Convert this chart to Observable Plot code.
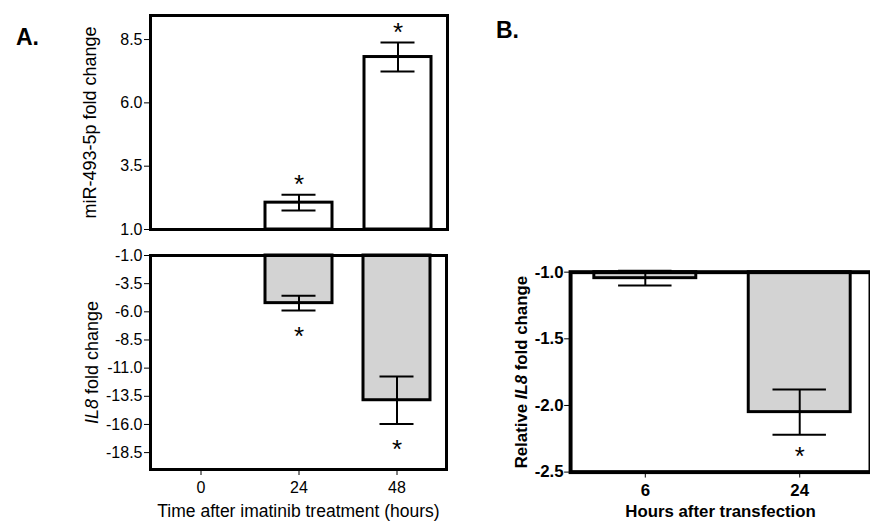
<!DOCTYPE html>
<html>
<head>
<meta charset="utf-8">
<script src="https://cdn.jsdelivr.net/npm/d3@7"></script>
<script src="https://cdn.jsdelivr.net/npm/@observablehq/plot@0.6"></script>
<style>
  html, body { margin: 0; padding: 0; background: white; overflow: hidden; }
  #root { position: relative; width: 870px; height: 522px; overflow: hidden; background: white; font-family: "Liberation Sans", Arial, sans-serif; }
  #root > .panel { position: absolute; }
  .letter { position: absolute; font-weight: bold; font-size: 23px; line-height: 23px; }
</style>
</head>
<body>
<div id="root">
  <div class="letter" style="left:16px; top:26px;">A.</div>
  <div class="letter" style="left:496px; top:19px;">B.</div>
</div>
<script>
// ---- Panel A: time after imatinib treatment (hours)
const hoursA = ["0", "24", "48"];
const mirMean = [1.0, 2.06, 7.81];
const mirErr = [0, 0.31, 0.57];
const mirSig = [false, true, true];
const il8Mean = [-1.0, -5.23, -13.85];
const il8Err = [0, 0.66, 2.1];
const il8Sig = [false, true, true];
const yTicksMir = [1.0, 3.5, 6.0, 8.5];
const yTicksIl8 = [-1.0, -3.5, -6.0, -8.5, -11.0, -13.5, -16.0, -18.5];

// ---- Panel B: hours after transfection
const hoursB = ["6", "24"];
const relMean = [-1.045, -2.05];
const relErr = [0.055, 0.17];
const relSig = [false, true];
const yTicksRel = [-1.0, -1.5, -2.0, -2.5];

const mirData = hoursA.map((h, i) => ({h, mean: mirMean[i], err: mirErr[i], sig: mirSig[i]}));
const il8Data = hoursA.map((h, i) => ({h, mean: il8Mean[i], err: il8Err[i], sig: il8Sig[i]}));
const relData = hoursB.map((h, i) => ({h, mean: relMean[i], err: relErr[i], sig: relSig[i]}));

const fmt = d => d.toFixed(1);
const hi = d => d.mean + d.err;
const lo = d => d.mean - d.err;
const font = "'Liberation Sans', Arial, sans-serif";

function errorMarks(data, inset, sw) {
  const e = data.filter(d => d.err > 0);
  return [
    Plot.ruleX(e, {x: "h", y1: lo, y2: hi, stroke: "black", strokeWidth: sw}),
    Plot.tickY(e, {x: "h", y: hi, insetLeft: inset, insetRight: inset, stroke: "black", strokeWidth: sw}),
    Plot.tickY(e, {x: "h", y: lo, insetLeft: inset, insetRight: inset, stroke: "black", strokeWidth: sw})
  ];
}

function italicize(svg) {
  d3.select(svg).selectAll("text").each(function() {
    const t = this.textContent;
    if (t.includes("IL8") && this.childElementCount === 0) {
      const [a, b] = t.split("IL8");
      const sel = d3.select(this);
      sel.text(null);
      if (a) sel.append("tspan").text(a);
      sel.append("tspan").attr("font-style", "italic").text("IL8");
      sel.append("tspan").text(b);
    }
  });
}

function place(el, left, top) {
  const wrap = document.createElement("div");
  wrap.className = "panel";
  wrap.style.left = left + "px";
  wrap.style.top = top + "px";
  wrap.appendChild(el);
  document.getElementById("root").appendChild(wrap);
}

// Top of panel A
const pTop = Plot.plot({
  width: 460, height: 240,
  marginLeft: 150, marginRight: 13, marginTop: 15, marginBottom: 11,
  style: {fontFamily: font, fontSize: "16px", background: "transparent", overflow: "visible", color: "black"},
  x: {type: "band", domain: hoursA, paddingInner: 0.32, paddingOuter: 0.16, axis: null},
  y: {domain: [1, 9.45], ticks: yTicksMir, tickFormat: fmt, tickSize: 6, tickPadding: 2, label: null},
  marks: [
    Plot.barY(mirData, {x: "h", y1: 1, y2: "mean", fill: "white", stroke: "black", strokeWidth: 3}),
    ...errorMarks(mirData, 16.5, 2),
    Plot.text(mirData.filter(d => d.sig), {x: "h", y: hi, text: () => "*", dy: -10, fontSize: 26}),
    Plot.frame({stroke: "black", strokeWidth: 3}),
    Plot.text(["miR-493-5p fold change"], {text: d => d, frameAnchor: "left", textAnchor: "middle", rotate: -90, dx: -60, fontSize: 18})
  ]
});
place(pTop, 0, 0);

// Bottom of panel A
const pBot = Plot.plot({
  width: 460, height: 282,
  marginLeft: 150, marginRight: 14, marginTop: 15, marginBottom: 53,
  style: {fontFamily: font, fontSize: "16px", background: "transparent", overflow: "visible", color: "black"},
  x: {type: "band", domain: hoursA, paddingInner: 0.32, paddingOuter: 0.16, tickSize: 6, tickPadding: 6, label: null},
  y: {domain: [-20, -1], ticks: yTicksIl8, tickFormat: fmt, tickSize: 6, tickPadding: 2, label: null},
  marks: [
    Plot.barY(il8Data, {x: "h", y1: -1, y2: "mean", fill: "#d3d3d3", stroke: "black", strokeWidth: 3}),
    ...errorMarks(il8Data, 16.5, 2),
    Plot.text(il8Data.filter(d => d.sig), {x: "h", y: lo, text: () => "*", dy: 26, fontSize: 26}),
    Plot.frame({stroke: "black", strokeWidth: 3}),
    Plot.text(["IL8 fold change"], {text: d => d, frameAnchor: "left", textAnchor: "middle", rotate: -90, dx: -58, fontSize: 18}),
    Plot.text(["Time after imatinib treatment (hours)"], {text: d => d, frameAnchor: "bottom", textAnchor: "middle", dy: 47, fontSize: 17.5})
  ]
});
italicize(pBot);
place(pBot, 0, 240);

// Panel B
const pB = Plot.plot({
  width: 394, height: 282,
  marginLeft: 91, marginRight: 0, marginTop: 32, marginBottom: 48,
  style: {fontFamily: font, fontSize: "17px", fontWeight: "bold", background: "transparent", overflow: "visible", color: "black"},
  x: {type: "band", domain: hoursB, range: [91, 397], paddingInner: 0.34, paddingOuter: 0.15, tickSize: 6, tickPadding: 6, label: null},
  y: {domain: [-2.5, -1], ticks: yTicksRel, tickFormat: fmt, tickSize: 6, tickPadding: 1, label: null},
  marks: [
    Plot.barY(relData, {x: "h", y1: -1, y2: "mean", fill: "#d3d3d3", stroke: "black", strokeWidth: 3}),
    ...errorMarks(relData, 24.5, 2),
    Plot.text(relData.filter(d => d.sig), {x: "h", y: lo, text: () => "*", dy: 22, fontSize: 26, fontWeight: "normal"}),
    Plot.frame({stroke: "black", strokeWidth: 4}),
    Plot.text(["Relative IL8 fold change"], {text: d => d, frameAnchor: "left", textAnchor: "middle", rotate: -90, dx: -49, fontSize: 17}),
    Plot.text(["Hours after transfection"], {text: d => d, frameAnchor: "bottom", textAnchor: "middle", dy: 45, fontSize: 17})
  ]
});
italicize(pB);
place(pB, 480, 240);
</script>
</body>
</html>
